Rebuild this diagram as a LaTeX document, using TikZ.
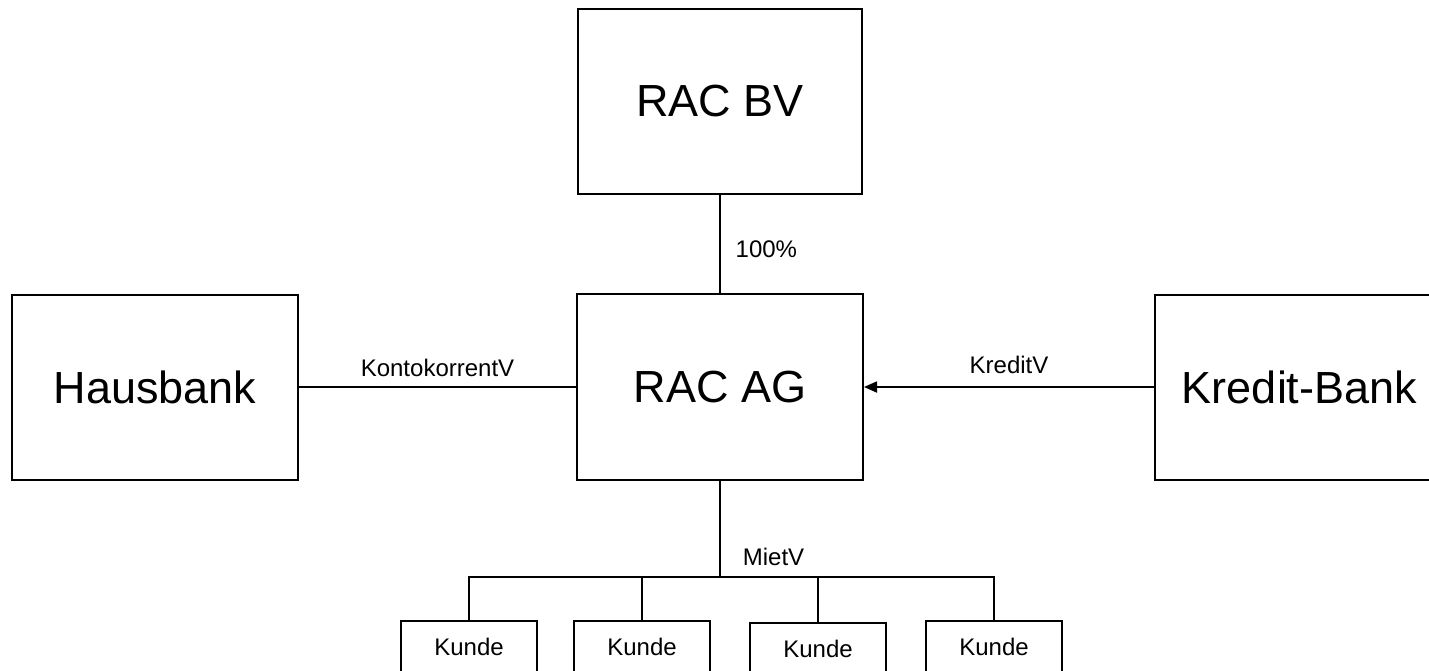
\documentclass[tikz,border=0pt]{standalone}
\usepackage{fontspec}
\setmainfont{Liberation Sans}
\usetikzlibrary{arrows.meta}
\tikzset{
  bigbox/.style={draw=black, line width=2pt, rectangle, inner sep=0pt,
    font=\fontsize{45}{54}\selectfont},
  kbox/.style={draw=black, line width=2pt, rectangle, inner sep=0pt,
    minimum width=136pt, minimum height=52pt, font=\fontsize{24}{29}\selectfont},
  conn/.style={draw=black, line width=1.8pt},
  thinconn/.style={draw=black, line width=1.3pt},
  lbl/.style={inner sep=0pt, font=\fontsize{24}{29}\selectfont}
}
\begin{document}
\begin{tikzpicture}[x=1pt,y=-1pt]
\useasboundingbox (0,0) rectangle (1429,670);
% boxes
\node[bigbox, minimum width=284pt, minimum height=185pt] (bv) at (720,101.5) {RAC BV};
\node[bigbox, minimum width=286pt, minimum height=186pt] (ag) at (720,387) {RAC AG};
\node[bigbox, minimum width=286pt, minimum height=185pt] (haus) at (155,387) {Hausbank};
\node[bigbox, minimum width=289pt, minimum height=185pt] (kb) at (1299.5,387) {Kredit-Bank};
\node[kbox] (k1) at (469,647) {Kunde};
\node[kbox] (k2) at (642,647) {Kunde};
\node[kbox] (k3) at (818,648.5) {Kunde};
\node[kbox] (k4) at (994,647) {Kunde};
\coordinate (j) at (720,577);
% connectors
\draw[thinconn] (bv.south) -- node[lbl, anchor=base west, xshift=15pt, yshift=-13pt] {100\%} (ag.north);
\draw[conn] (haus.east) -- node[lbl, anchor=base, yshift=11pt] {KontokorrentV} (ag.west);
\draw[conn, -{Triangle[length=13pt,width=11pt]}] (kb.west) -- node[lbl, anchor=base, yshift=14pt] {KreditV} (ag.east);
\draw[conn] (ag.south) -- node[lbl, pos=1, anchor=base west, xshift=22pt, yshift=12pt] {MietV} (j);
\draw[conn] (k1.north) |- (j) -| (k4.north);
\draw[conn] (k2.north) -- (k2.north |- j);
\draw[conn] (k3.north) -- (k3.north |- j);
\end{tikzpicture}
\end{document}
